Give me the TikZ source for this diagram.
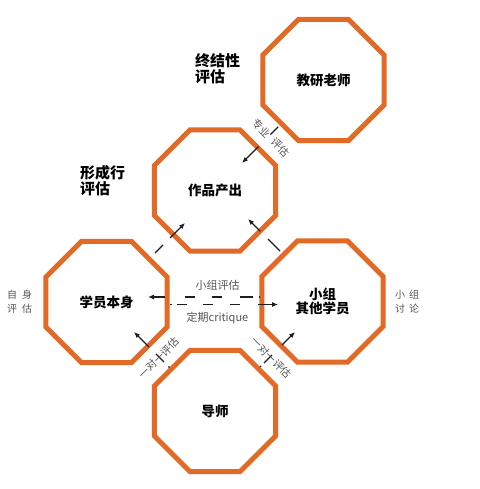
\documentclass[tikz,border=0pt]{standalone}
\usepackage{fontspec}
\setmainfont{Noto Sans CJK SC}
\usetikzlibrary{shapes.geometric,arrows.meta}
\definecolor{oct}{RGB}{226,106,38}
\definecolor{lab}{RGB}{85,85,85}
\definecolor{arr}{RGB}{30,30,30}
\tikzset{
  octo/.style={draw=oct, line width=5pt, regular polygon, regular polygon sides=8,
    minimum size=131pt, inner sep=0pt, align=center, text=black,
    font=\bfseries\fontsize{13.5}{14.5}\selectfont},
  sect/.style={font=\bfseries\fontsize{15}{16}\selectfont, align=left, inner sep=0pt, anchor=base west},
  glab/.style={font=\fontsize{11}{12}\selectfont, text=lab, inner sep=0pt},
  side/.style={font=\fontsize{10}{14}\selectfont, text=lab, inner sep=0pt, align=left},
  arrw/.style={draw=arr, line width=1.1pt, -{Latex[length=6pt,width=5pt]}},
}
\begin{document}
\begin{tikzpicture}[x=1pt,y=-1pt]
\useasboundingbox (0,0) rectangle (479,489);
% octagons
\node[octo] (jy) at (323.5,80) {教研老师};
\node[octo] (zp) at (215,190.5) {作品产出};
\node[octo] (xy) at (106.5,302) {学员本身};
\node[octo] (xz) at (322.5,301.5) {小组\\其他学员};
\node[octo] (ds) at (215,411) {导师};
% section labels
\node[sect] (zj) at (195,83) {终结性\\评估};
\node[sect] (xc) at (80,194) {形成行\\评估};
% side labels
\node[side] (zs) at (19.5,302) {自\hspace{5pt}身\\评\hspace{5pt}估};
\node[side] (xt) at (407,301.5) {小\hspace{4pt}组\\讨\hspace{4pt}论};
% connector end points
\coordinate (a1s) at (281,124);   \coordinate (a1e) at (242,163);
\coordinate (a2s) at (151,257);   \coordinate (a2e) at (185,223);
\coordinate (a3s) at (281.5,252.5); \coordinate (a3e) at (248,219);
\coordinate (a4s) at (169.5,367.5); \coordinate (a4e) at (134,332);
\coordinate (a5s) at (260,367);   \coordinate (a5e) at (295,332);
\coordinate (h1s) at (260,297);   \coordinate (h1e) at (148,297);
\coordinate (h2s) at (170,304.5); \coordinate (h2e) at (278,304.5);
% connectors
\draw[arrw, dash pattern=on 0pt off 4pt on 11pt off 17pt on 80pt] (a1s) -- (a1e);
\draw[arrw, dash pattern=on 0pt off 5.7pt on 11.3pt off 10pt on 80pt] (a2s) -- (a2e);
\draw[arrw, dash pattern=on 0pt off 2pt on 17pt off 11pt on 80pt] (a3s) -- (a3e);
\draw[arrw, dash pattern=on 1.5pt off 6.3pt on 11.3pt off 9.9pt on 80pt] (a4s) -- (a4e);
\draw[arrw, dash pattern=on 1.5pt off 4.2pt on 11.3pt off 14pt on 80pt] (a5s) -- (a5e);
\draw[arrw, dash pattern=on 1.5pt off 5.5pt on 13pt off 18pt on 10pt off 17pt on 10pt off 20pt on 80pt] (h1s) -- (h1e);
\draw[arrw, dash pattern=on 1.5pt off 5.5pt on 10pt off 16pt on 10pt off 17pt on 10pt off 18pt on 80pt] (h2s) -- (h2e);
% connector labels
\node[glab] (l1) at (217.5,285) {小组评估};
\node[glab] (l2) at (217.5,318) {定期critique};
\node[glab, font=\fontsize{10.5}{12}\selectfont, rotate=-45] (l3) at (271,138) {专业\hspace{6pt}评估};
\node[glab, font=\fontsize{10.5}{12}\selectfont, rotate=45] (l4) at (159,358) {一对一评估};
\node[glab, font=\fontsize{10.5}{12}\selectfont, rotate=-45] (l5) at (271.5,357.5) {一对一评估};
\end{tikzpicture}
\end{document}
